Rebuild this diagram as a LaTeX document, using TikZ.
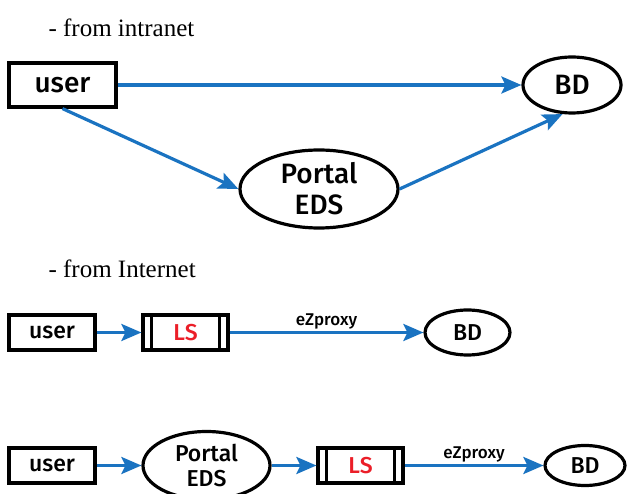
\documentclass[tikz,border=0pt]{standalone}
\usepackage{fontspec}
\setmainfont{Liberation Serif}
\setsansfont{Fira Sans}[BoldFont={Fira Sans Medium}]
\usetikzlibrary{arrows.meta,shapes.geometric}
\definecolor{linkblue}{RGB}{26,115,193}
\definecolor{lsred}{RGB}{235,30,40}

\begin{document}
\begin{tikzpicture}[x=1pt,y=-1pt,
    big/.style={font=\sffamily\bfseries\fontsize{28}{31}\selectfont},
    small/.style={font=\sffamily\bfseries\fontsize{23}{25}\selectfont},
    tag/.style={font=\sffamily\bfseries\fontsize{17}{19}\selectfont,inner sep=2pt},
    rbox/.style={draw,line width=3.2pt,inner sep=0pt},
    oval/.style={draw,ellipse,line width=3.2pt,inner sep=0pt},
    link/.style={draw=linkblue,line width=3.2pt,-{Stealth[length=20pt,width=17pt,inset=4pt]}},
    hdr/.style={font=\fontsize{25}{28}\selectfont,anchor=base west}]
    \useasboundingbox (0,0) rectangle (627,494);
    % from intranet
    \node[hdr] (h1) at (45,37) {- from intranet};
    \node[rbox,big,minimum width=107pt,minimum height=44pt] (u1) at (62.5,85) {user};
    \node[oval,big,minimum width=98pt,minimum height=56pt] (bd1) at (572,85) {BD};
    \node[oval,big,align=center,minimum width=158pt,minimum height=78pt] (pe1) at (319,189) {Portal\\EDS};
    \draw[link] (u1.east) -- (bd1.west);
    \draw[link] (u1.south) -- (pe1.west);
    \draw[link] (pe1.east) -- (bd1.-108);
    % from Internet
    \node[hdr] (h2) at (45,278) {- from Internet};
    \node[rbox,small,minimum width=86pt,minimum height=35pt] (u2) at (52,332.5) {user};
    \node[rbox,small,text=lsred,minimum width=85pt,minimum height=35pt] (ls2) at (185.5,332.5) {LS};
    \node[oval,small,minimum width=85pt,minimum height=45pt] (bd2) at (467.5,332.5) {BD};
    \draw[line width=3.2pt] ([xshift=10pt]ls2.north west) -- ([xshift=10pt]ls2.south west);
    \draw[line width=3.2pt] ([xshift=-10pt]ls2.north east) -- ([xshift=-10pt]ls2.south east);
    \draw[link] (u2) -- (ls2);
    \draw[link] (ls2) -- node[above,tag] {eZproxy} (bd2);
    \node[rbox,small,minimum width=86pt,minimum height=35pt] (u3) at (52,465.5) {user};
    \node[oval,small,align=center,minimum width=127pt,minimum height=68pt] (pe3) at (206.5,465.5) {Portal\\EDS};
    \node[rbox,small,text=lsred,minimum width=85pt,minimum height=35pt] (ls3) at (360.5,465.5) {LS};
    \node[oval,small,minimum width=80pt,minimum height=40pt] (bd3) at (585,465.5) {BD};
    \draw[line width=3.2pt] ([xshift=10pt]ls3.north west) -- ([xshift=10pt]ls3.south west);
    \draw[line width=3.2pt] ([xshift=-10pt]ls3.north east) -- ([xshift=-10pt]ls3.south east);
    \draw[link] (u3) -- (pe3);
    \draw[link] (pe3) -- (ls3);
    \draw[link] (ls3) -- node[above,tag] {eZproxy} (bd3);
\end{tikzpicture}
\end{document}
